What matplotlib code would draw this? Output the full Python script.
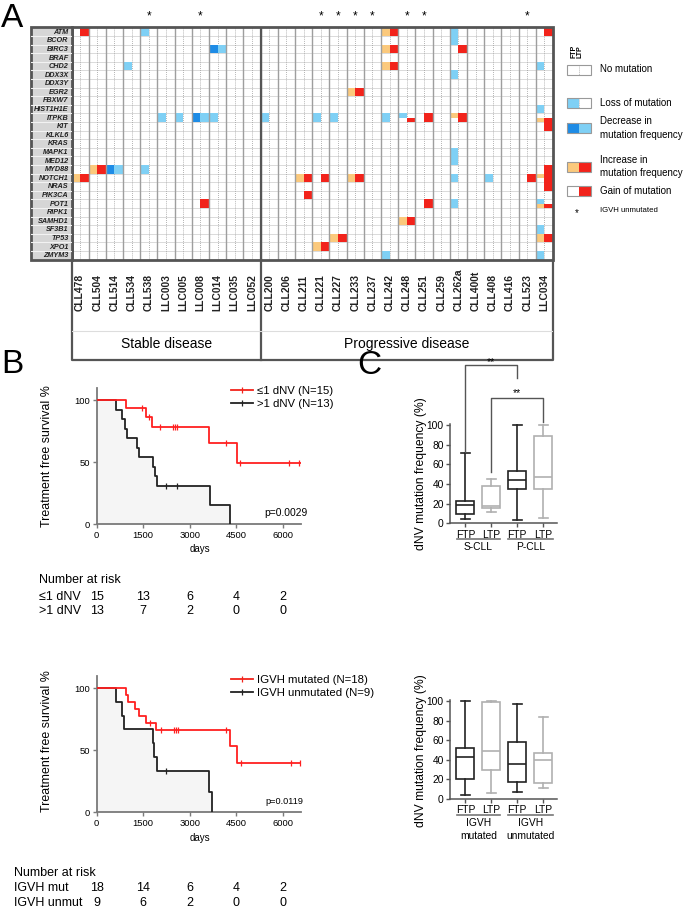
import matplotlib
matplotlib.use('Agg')
import matplotlib.pyplot as plt
from matplotlib.patches import Rectangle
from matplotlib.lines import Line2D
import matplotlib.transforms as mtransforms
import numpy as np

plt.rcParams['font.family'] = ['Liberation Sans', 'DejaVu Sans']

# ---------------- data ----------------
genes = ['ATM', 'BCOR', 'BIRC3', 'BRAF', 'CHD2', 'DDX3X', 'DDX3Y', 'EGR2', 'FBXW7',
         'HIST1H1E', 'ITPKB', 'KIT', 'KLKL6', 'KRAS', 'MAPK1', 'MED12', 'MYD88',
         'NOTCH1', 'NRAS', 'PIK3CA', 'POT1', 'RIPK1', 'SAMHD1', 'SF3B1', 'TP53',
         'XPO1', 'ZMYM3']
stable = ['CLL478', 'CLL504', 'CLL514', 'CLL534', 'CLL538', 'LLC003', 'LLC005',
          'LLC008', 'LLC014', 'LLC035', 'LLC052']
progressive = ['CLL200', 'CLL206', 'CLL211', 'CLL221', 'CLL227', 'CLL233', 'CLL237',
               'CLL242', 'CLL248', 'CLL251', 'CLL259', 'CLL262a', 'CLL400t', 'CLL408',
               'CLL416', 'CLL523', 'LLC034']
patients = stable + progressive
igvh_unmutated = ['CLL538', 'LLC008', 'CLL221', 'CLL227', 'CLL233', 'CLL237',
                  'CLL248', 'CLL251', 'CLL523']

# (gene, patient, change, part)
changes = [
    ('ATM', 'CLL478', 'gain', 'full'), ('NOTCH1', 'CLL478', 'increase', 'full'),
    ('MYD88', 'CLL504', 'increase', 'full'), ('MYD88', 'CLL514', 'decrease', 'full'),
    ('CHD2', 'CLL534', 'loss', 'full'), ('ATM', 'CLL538', 'loss', 'full'),
    ('MYD88', 'CLL538', 'loss', 'full'), ('ITPKB', 'LLC003', 'loss', 'full'),
    ('ITPKB', 'LLC005', 'loss', 'full'), ('ITPKB', 'LLC008', 'decrease', 'full'),
    ('POT1', 'LLC008', 'gain', 'full'), ('BIRC3', 'LLC014', 'decrease', 'full'),
    ('ITPKB', 'LLC014', 'loss', 'full'),
    ('ITPKB', 'CLL200', 'loss', 'full'),
    ('NOTCH1', 'CLL211', 'increase', 'full'), ('PIK3CA', 'CLL211', 'gain', 'full'),
    ('ITPKB', 'CLL221', 'loss', 'full'), ('NOTCH1', 'CLL221', 'gain', 'full'),
    ('XPO1', 'CLL221', 'increase', 'full'),
    ('ITPKB', 'CLL227', 'loss', 'full'), ('TP53', 'CLL227', 'increase', 'full'),
    ('EGR2', 'CLL233', 'increase', 'full'), ('NOTCH1', 'CLL233', 'increase', 'full'),
    ('ATM', 'CLL242', 'increase', 'full'), ('BIRC3', 'CLL242', 'increase', 'full'),
    ('CHD2', 'CLL242', 'increase', 'full'), ('ITPKB', 'CLL242', 'loss', 'full'),
    ('ZMYM3', 'CLL242', 'loss', 'full'),
    ('ITPKB', 'CLL248', 'loss', 'top'), ('ITPKB', 'CLL248', 'gain', 'bottom'),
    ('SAMHD1', 'CLL248', 'increase', 'full'),
    ('ITPKB', 'CLL251', 'gain', 'full'), ('POT1', 'CLL251', 'gain', 'full'),
    ('ATM', 'CLL262a', 'loss', 'full'), ('BCOR', 'CLL262a', 'loss', 'full'),
    ('BIRC3', 'CLL262a', 'gain', 'full'), ('DDX3X', 'CLL262a', 'loss', 'full'),
    ('ITPKB', 'CLL262a', 'increase', 'top'), ('ITPKB', 'CLL262a', 'gain', 'bottom'),
    ('MAPK1', 'CLL262a', 'loss', 'full'), ('MED12', 'CLL262a', 'loss', 'full'),
    ('NOTCH1', 'CLL262a', 'loss', 'full'), ('POT1', 'CLL262a', 'loss', 'full'),
    ('NOTCH1', 'CLL408', 'loss', 'full'), ('NOTCH1', 'CLL523', 'gain', 'full'),
    ('ATM', 'LLC034', 'gain', 'full'), ('CHD2', 'LLC034', 'loss', 'full'),
    ('HIST1H1E', 'LLC034', 'loss', 'full'), ('ITPKB', 'LLC034', 'increase', 'bottom'),
    ('KIT', 'LLC034', 'gain', 'full'), ('MYD88', 'LLC034', 'gain', 'full'),
    ('NOTCH1', 'LLC034', 'increase', 'top'), ('NOTCH1', 'LLC034', 'gain', 'bottom'),
    ('NRAS', 'LLC034', 'gain', 'full'), ('POT1', 'LLC034', 'loss', 'top'),
    ('POT1', 'LLC034', 'increase', 'bottom'), ('SF3B1', 'LLC034', 'loss', 'full'),
    ('TP53', 'LLC034', 'increase', 'full'), ('ZMYM3', 'LLC034', 'loss', 'full'),
]

# Kaplan-Meier curves (days, survival %)
km1_low_t = [0, 946, 1590, 1795, 3635, 4537, 6600]
km1_low_s = [100, 93.3, 86.7, 78.2, 65.2, 48.9, 48.9]
km1_low_c = [1450, 1700, 2050, 2470, 2540, 2600, 4160, 4620, 6210, 6525]
km1_high_t = [0, 624, 828, 925, 978, 1312, 1376, 1830, 1880, 1930, 3660, 4300]
km1_high_s = [100, 92.3, 84.6, 76.9, 69.2, 61.5, 53.8, 46.2, 38.5, 30.8, 15.4, 0]
km1_high_c = [2226, 2580]
risk1_low = [15, 13, 6, 4, 2]
risk1_high = [13, 7, 2, 0, 0]

km2_mut_t = [0, 946, 1000, 1237, 1376, 1580, 1900, 4300, 4540, 6600]
km2_mut_s = [100, 94.4, 88.9, 83.3, 77.8, 72.2, 66.2, 53.0, 39.7, 39.7]
km2_mut_c = [1720, 2075, 2495, 2550, 2610, 4170, 4645, 6260, 6560]
km2_un_t = [0, 624, 828, 882, 1806, 1849, 1935, 3634, 3710]
km2_un_s = [100, 88.9, 77.8, 66.7, 55.6, 44.4, 33.3, 16.7, 0]
km2_un_c = [2226]
risk2_mut = [18, 14, 6, 4, 2]
risk2_un = [9, 6, 2, 0, 0]
risk_days = [0, 1500, 3000, 4500, 6000]

# box plots: whislo, q1, med, q3, whishi
box_c1 = {'S-CLL FTP': (4.7, 9.5, 19, 22.3, 71), 'S-CLL LTP': (11, 15.2, 18, 38, 45),
          'P-CLL FTP': (3.4, 35, 44, 52.7, 100), 'P-CLL LTP': (5.4, 34.5, 46.6, 89, 100)}
box_c2 = {'mut FTP': (3.4, 20, 43, 52.2, 100), 'mut LTP': (5.8, 29.5, 48.5, 99.3, 99.6),
          'unmut FTP': (6.4, 17.6, 36, 58, 97), 'unmut LTP': (11.2, 16, 40, 46.4, 83.7)}
box_ticklabels = ['FTP', 'LTP', 'FTP', 'LTP']

# ---------------- style ----------------
LB, DB, OR, RD = '#7fd0f5', '#1e8ce6', '#fbc97c', '#f2231b'
state_colors = {'loss': (LB, None), 'decrease': (DB, LB),
                'increase': (OR, RD), 'gain': (None, RD)}
DARK = '#555555'

W, H = 685, 909
fig = plt.figure(figsize=(W / 100, H / 100), dpi=100)


def px_axes(x0, y0, x1, y1):
    return fig.add_axes([x0 / W, 1 - y1 / H, (x1 - x0) / W, (y1 - y0) / H])


def ftext(x, y, s, **kw):
    return fig.text(x / W, 1 - y / H, s, **kw)


# ---------------- Panel A ----------------
ng, npat = len(genes), len(patients)
ns = len(stable)
axh = px_axes(71.5, 27.5, 553, 259.5)
axh.set_xlim(0, 2 * npat)
axh.set_ylim(ng, 0)
axh.axis('off')
for r in range(1, ng):
    axh.axhline(r, color='#dadada', lw=0.7, zorder=1)
for p in range(npat):
    axh.axvline(2 * p + 1, color='#9a9a9a', lw=0.6, ls=(0, (1, 1.5)), zorder=1)
    if p > 0:
        axh.axvline(2 * p, color='#9e9e9e', lw=1.0, zorder=3)
axh.axvline(2 * ns, color=DARK, lw=1.6, zorder=4)
for gene, pat, state, part in changes:
    r = genes.index(gene)
    c = 2 * patients.index(pat)
    y0, hh = {'full': (r, 1), 'top': (r, 0.5), 'bottom': (r + 0.5, 0.5)}[part]
    for k, col in enumerate(state_colors[state]):
        if col is not None:
            axh.add_patch(Rectangle((c + k, y0), 1, hh, fc=col, ec='none', zorder=2))
axh.add_patch(Rectangle((0, 0), 2 * npat, ng, fill=False, ec=DARK, lw=2,
                        clip_on=False, zorder=5))
for pat in igvh_unmutated:
    axh.text(2 * patients.index(pat) + 1, -1.25, '*', ha='center', va='center',
             fontsize=8.5, clip_on=False)

# gene labels
axg = px_axes(31, 27.5, 71.5, 259.5)
axg.set_xlim(0, 1)
axg.set_ylim(ng, 0)
axg.axis('off')
axg.add_patch(Rectangle((0, 0), 1, ng, fc='#d6d6d6', ec='none'))
for r in range(1, ng):
    axg.axhline(r, color='#f2f2f2', lw=0.8)
for r, g in enumerate(genes):
    axg.text(0.93, r + 0.55, g, ha='right', va='center', fontsize=5.2,
             fontweight='bold', fontstyle='italic', color='#222222')
axg.add_patch(Rectangle((0, 0), 1, ng, fill=False, ec=DARK, lw=2, clip_on=False))

# patient label box
axp = px_axes(71.5, 259.5, 553, 360)
axp.set_xlim(0, 2 * npat)
axp.set_ylim(1, 0)
axp.axis('off')
axp.plot([0, 0, 2 * npat, 2 * npat], [0, 1, 1, 0], color=DARK, lw=1.6, clip_on=False)
axp.plot([2 * ns, 2 * ns], [0, 1], color=DARK, lw=1.6, clip_on=False)
axp.axhline(0.71, color='#dddddd', lw=0.8)
for i, pat in enumerate(patients):
    axp.text(2 * i + 1, 0.51, pat, rotation=90, ha='center', va='bottom',
             fontsize=7.4, fontweight='bold', color='#222222')
axp.text(ns, 0.845, 'Stable disease', ha='center', va='center', fontsize=10)
axp.text(2 * ns + len(progressive), 0.845, 'Progressive disease', ha='center',
         va='center', fontsize=10)

# legend of panel A
axl = px_axes(555, 30, 685, 230)
axl.set_xlim(555, 685)
axl.set_ylim(230, 30)
axl.axis('off')
axl.text(573.5, 58, 'FTP', rotation=90, ha='center', va='bottom', fontsize=5,
         fontweight='bold')
axl.text(580.5, 58, 'LTP', rotation=90, ha='center', va='bottom', fontsize=5,
         fontweight='bold')
leg_items = [(69.5, (None, None), ['No mutation']),
             (102.5, (LB, None), ['Loss of mutation']),
             (128, (DB, LB), ['Decrease in', 'mutation frequency']),
             (166.5, (OR, RD), ['Increase in', 'mutation frequency']),
             (190.5, (None, RD), ['Gain of mutation'])]
for yc, cols, lab in leg_items:
    for k, col in enumerate(cols):
        axl.add_patch(Rectangle((567 + 12 * k, yc - 5), 12, 10,
                                fc=col if col else 'white', ec='none'))
    axl.add_patch(Rectangle((567, yc - 5), 24, 10, fill=False, ec='#999999', lw=0.8))
    if cols[1] is None:
        axl.plot([579, 579], [yc - 5, yc + 5], color='#999999', lw=0.6, ls=(0, (1, 1.5)))
    if len(lab) == 1:
        axl.text(600, yc, lab[0], va='center', fontsize=7)
    else:
        axl.text(600, yc - 6.5, lab[0], va='center', fontsize=7)
        axl.text(600, yc + 6.5, lab[1], va='center', fontsize=7)
axl.text(577, 213, '*', ha='center', va='center', fontsize=7)
axl.text(600, 211, 'IGVH unmutated', va='center', fontsize=5.6)

# ---------------- Panel B ----------------
GRAYAX = '#7a7a7a'


def style_km(ax):
    ax.set_xlim(0, 6600)
    ax.set_ylim(0, 109.7)
    for s in ['top', 'right']:
        ax.spines[s].set_visible(False)
    for s in ['left', 'bottom']:
        ax.spines[s].set_color(GRAYAX)
        ax.spines[s].set_linewidth(1.3)
    ax.set_xticks(risk_days)
    ax.set_yticks([0, 50, 100])
    ax.tick_params(length=3, width=1, color=GRAYAX, labelsize=6.8, pad=2)
    ax.set_facecolor('none')


def km(ax, t, s, cens, color, fill=False):
    t = np.asarray(t)
    s = np.asarray(s)
    if fill:
        ax.fill_between(t, s, step='post', color='#f5f5f5', lw=0, zorder=0)
    ax.step(t, s, where='post', color=color, lw=1.3, zorder=3)
    cy = [s[np.searchsorted(t, c, side='right') - 1] for c in cens]
    ax.plot(cens, cy, ls='none', marker='|', ms=4, mew=0.9, color=color, zorder=3)


def km_legend(ax, labels, ytop):
    hs = [Line2D([], [], color=c, lw=1.3, marker='|', ms=4, mew=0.9) for c in (RD, '#222222')]
    ax.legend(hs, labels, loc='upper left', bbox_to_anchor=(231 / W, 1 - ytop / H),
              bbox_transform=fig.transFigure, frameon=False, fontsize=8.2,
              handlelength=1.9, handletextpad=0.4, labelspacing=0.3,
              borderpad=0, borderaxespad=0, numpoints=1)


axb1 = px_axes(96.7, 388, 301.3, 524)
style_km(axb1)
km(axb1, km1_high_t, km1_high_s, km1_high_c, '#222222', fill=True)
km(axb1, km1_low_t, km1_low_s, km1_low_c, '#ff2020')
km_legend(axb1, ['≤1 dNV (N=15)', '>1 dNV (N=13)'], 386)
ftext(308, 513, 'p=0.0029', ha='right', va='center', fontsize=7.4)
ftext(47, 456, 'Treatment free survival %', rotation=90, ha='center', va='center',
      fontsize=8.9)
ftext(200, 549, 'days', ha='center', va='center', fontsize=7)

axb2 = px_axes(96.7, 676, 301.3, 812.3)
style_km(axb2)
km(axb2, km2_un_t, km2_un_s, km2_un_c, '#222222', fill=True)
km(axb2, km2_mut_t, km2_mut_s, km2_mut_c, '#ff2020')
km_legend(axb2, ['IGVH mutated (N=18)', 'IGVH unmutated (N=9)'], 675)
ftext(303, 801, 'p=0.0119', ha='right', va='center', fontsize=6.6)
ftext(47, 741, 'Treatment free survival %', rotation=90, ha='center', va='center',
      fontsize=8.9)
ftext(200, 838, 'days', ha='center', va='center', fontsize=7)


def risk_table(ax, x_lab, ys, labels, rows):
    tr = mtransforms.blended_transform_factory(ax.transData, fig.transFigure)
    ftext(x_lab, ys[0], 'Number at risk', va='center', fontsize=9)
    for y, lab, vals in zip(ys[1:], labels, rows):
        ftext(x_lab, y, lab, va='center', fontsize=9)
        for d, v in zip(risk_days, vals):
            ax.text(d, 1 - y / H, str(v), transform=tr, ha='center', va='center',
                    fontsize=9)


risk_table(axb1, 39, [580, 597, 611], ['≤1 dNV', '>1 dNV'], [risk1_low, risk1_high])
risk_table(axb2, 14, [873, 888, 903], ['IGVH mut', 'IGVH unmut'], [risk2_mut, risk2_un])

# ---------------- Panel C ----------------
box_colors = ['#222222', '#b0b0b0', '#222222', '#b0b0b0']


def box_panel(ax, data):
    for i, ((name, v), c) in enumerate(zip(data.items(), box_colors)):
        st = dict(whislo=v[0], q1=v[1], med=v[2], q3=v[3], whishi=v[4], fliers=[],
                  label=name)
        lp = dict(color=c, lw=1.2)
        ax.bxp([st], positions=[i + 1], widths=0.68, showfliers=False, patch_artist=True,
               boxprops=dict(facecolor='white', edgecolor=c, lw=1.2),
               medianprops=lp, whiskerprops=lp, capprops=lp, capwidths=0.36)
    ax.set_xlim(0.41, 4.52)
    ax.set_ylim(0, 101)
    for s in ['top', 'right']:
        ax.spines[s].set_visible(False)
    for s in ['left', 'bottom']:
        ax.spines[s].set_color(DARK)
        ax.spines[s].set_linewidth(1.1)
    ax.set_xticks([1, 2, 3, 4])
    ax.set_xticklabels(box_ticklabels)
    ax.set_yticks(range(0, 101, 20))
    ax.tick_params(length=3, width=1, color=DARK, labelsize=7.4, pad=1.5)
    ax.set_facecolor('none')


def group_labels(ax, yline, groups):
    tr = ax.get_xaxis_transform()
    for x0, x1, lines in groups:
        ax.plot([x0, x1], [yline, yline], color='#777777', lw=1.2, transform=tr,
                clip_on=False)
        for j, t in enumerate(lines):
            ax.text((x0 + x1) / 2, yline - 0.08 - 0.13 * j, t, transform=tr,
                    ha='center', va='center', fontsize=7.4)


axc1 = px_axes(450, 424, 556.7, 523.3)
box_panel(axc1, box_c1)
group_labels(axc1, -0.16, [(0.68, 2.33, ['S-CLL']), (2.64, 4.37, ['P-CLL'])])
br = dict(color=DARK, lw=1.0, clip_on=False)
axc1.plot([1, 1, 3, 3], [73, 160.6, 160.6, 147.4], **br)
axc1.plot([2, 2, 4, 4], [52, 127.4, 127.4, 103], **br)
axc1.text(2, 164, '**', ha='center', va='center', fontsize=7.5, clip_on=False)
axc1.text(3, 132, '**', ha='center', va='center', fontsize=7.5, clip_on=False)
ftext(421, 474, 'dNV mutation frequency (%)', rotation=90, ha='center', va='center',
      fontsize=8.7)

axc2 = px_axes(450, 700, 556.7, 798.7)
box_panel(axc2, box_c2)
group_labels(axc2, -0.165, [(0.68, 2.33, ['IGVH', 'mutated']),
                            (2.64, 4.37, ['IGVH', 'unmutated'])])
ftext(421, 751, 'dNV mutation frequency (%)', rotation=90, ha='center', va='center',
      fontsize=8.7)

# panel letters
ftext(1, 27, 'A', fontsize=24, va='baseline')
ftext(1, 373, 'B', fontsize=24, va='baseline')
ftext(357, 374, 'C', fontsize=24, va='baseline')

fig.savefig('out.png', dpi=100)
